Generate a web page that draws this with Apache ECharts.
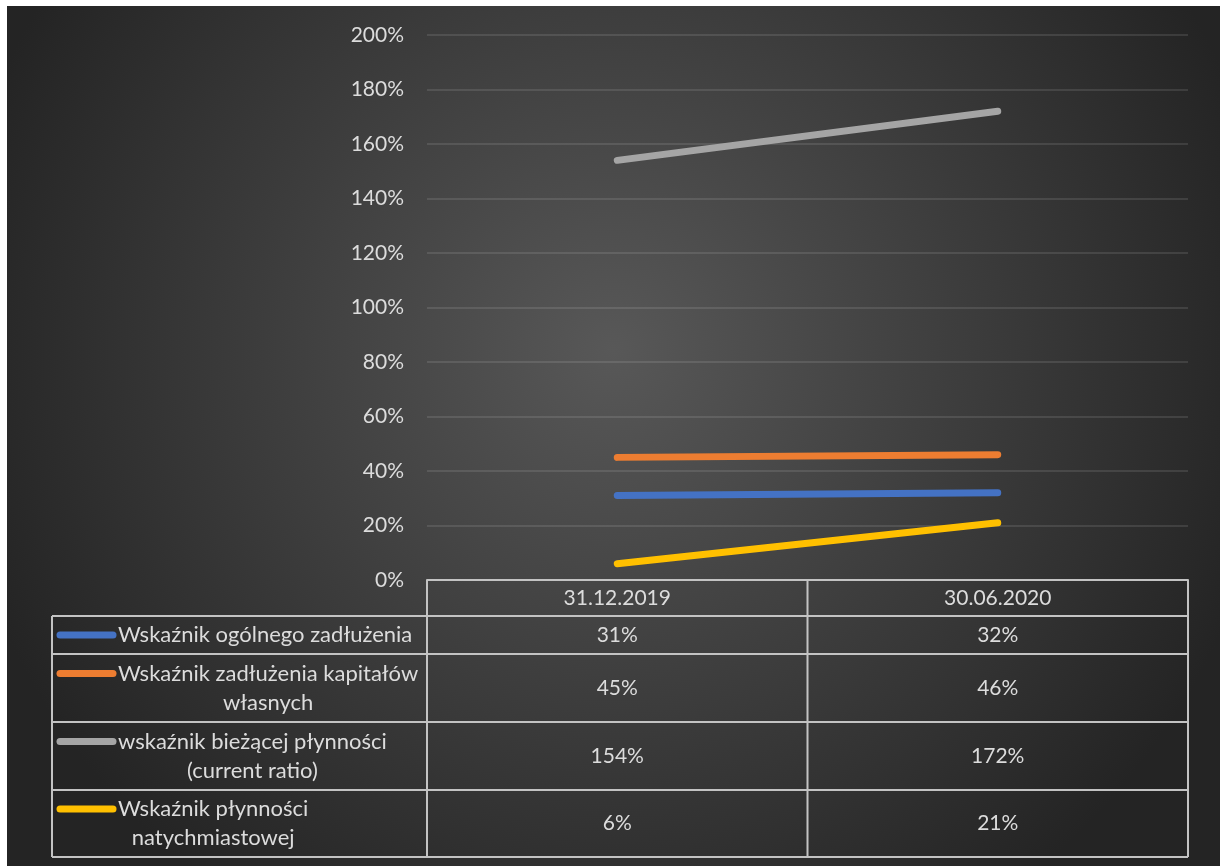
<!DOCTYPE html>
<html><head><meta charset="utf-8">
<script src="https://cdn.jsdelivr.net/npm/echarts@6/dist/echarts.min.js"></script>
<style>html,body{margin:0;padding:0;background:#242424;width:1220px;height:866px;overflow:hidden}
#c{position:absolute;left:7px;top:6px;width:1213px;height:860px}
#wt{position:absolute;left:0;top:0;width:1220px;height:6px;background:#fff}
#wl{position:absolute;left:0;top:0;width:7px;height:866px;background:#fff}</style></head>
<body><div id="c"></div><div id="wt"></div><div id="wl"></div>
<script>
const categories = ['31.12.2019', '30.06.2020'];
const seriesNames = [
  'Wskaźnik ogólnego zadłużenia',
  'Wskaźnik zadłużenia kapitałów\nwłasnych',
  'wskaźnik bieżącej płynności\n(current ratio)',
  'Wskaźnik płynności\nnatychmiastowej'
];
const ogolneZadluzenie = [0.31, 0.32];
const zadluzenieKapitalow = [0.45, 0.46];
const biezacaPlynnosc = [1.54, 1.72];
const plynnoscNatychmiastowa = [0.06, 0.21];
const seriesColors = ['#4472C4', '#ED7D31', '#A5A5A5', '#FFC000'];
const yMin = 0, yMax = 2, yStep = 0.2;

const seriesValues = [ogolneZadluzenie, zadluzenieKapitalow, biezacaPlynnosc, plynnoscNatychmiastowa];
const FONT = 'Lato';
const FS_NUM = 21;
const FS_LBL = 22;
const TXT = '#dcdcdc';
const LINE = '#c3c3c3';
const pct = v => Math.round(v * 100) + '%';

const chart = echarts.init(document.getElementById('c'));
chart.setOption({
  animation: false,
  backgroundColor: {
    type: 'radial', x: 0.5, y: 0.4, r: 0.78,
    colorStops: [{offset: 0, color: '#585858'}, {offset: 1, color: '#242424'}]
  },
  textStyle: {fontFamily: FONT},
  grid: {left: 420, right: 32, top: 29, bottom: 286},
  xAxis: {
    type: 'category', data: categories, boundaryGap: true,
    axisTick: {show: false},
    axisLine: {lineStyle: {color: LINE, width: 2}},
    axisLabel: {color: TXT, fontSize: FS_NUM, fontFamily: FONT, margin: 18, verticalAlign: 'middle'},
    splitLine: {show: false}
  },
  yAxis: {
    type: 'value', min: yMin, max: yMax, interval: yStep,
    axisLine: {show: false}, axisTick: {show: false},
    axisLabel: {color: TXT, fontSize: FS_NUM, fontFamily: FONT, margin: 23, formatter: pct},
    splitLine: {lineStyle: {color: 'rgba(255,255,255,0.14)', width: 1.5}}
  },
  series: seriesValues.map((vals, i) => ({
    type: 'line', name: seriesNames[i], data: vals,
    showSymbol: false, symbol: 'none',
    lineStyle: {color: seriesColors[i], width: 7, cap: 'round'},
    itemStyle: {color: seriesColors[i]},
    z: 3
  }))
});

// Data table under the axis
const c0 = chart.convertToPixel({xAxisIndex: 0}, 0);
const c1 = chart.convertToPixel({xAxisIndex: 0}, 1);
const half = (c1 - c0) / 2;
const colEdges = [c0 - half, c0 + half, c1 + half];
const axisY = chart.convertToPixel({yAxisIndex: 0}, 0);
const headerBottom = axisY + 36;
const rowHeights = [38, 68, 68, 67];
const rowTops = [headerBottom];
rowHeights.forEach((h, i) => rowTops.push(rowTops[i] + h));
const tableLeft = 45;
const keyX0 = 50, keyX1 = 109, textX = 111;
const lineH = 29;

const measure = document.createElement('canvas').getContext('2d');
measure.font = FS_LBL + 'px ' + FONT;

const g = [];
const hline = (x1, x2, y) => g.push({type: 'line', shape: {x1, y1: y, x2, y2: y}, style: {stroke: LINE, lineWidth: 2}, silent: true, z: 10});
const vline = (x, y1, y2) => g.push({type: 'line', shape: {x1: x, y1, x2: x, y2}, style: {stroke: LINE, lineWidth: 2}, silent: true, z: 10});
rowTops.forEach(y => hline(tableLeft, colEdges[2], y));
vline(tableLeft, rowTops[0], rowTops[rowTops.length - 1]);
colEdges.forEach(x => vline(x, axisY, rowTops[rowTops.length - 1]));

seriesNames.forEach((name, i) => {
  const top = rowTops[i], h = rowHeights[i], mid = top + h / 2;
  const lines = name.split('\n');
  const blockH = lines.length * lineH;
  const firstY = mid - blockH / 2 + lineH / 2;
  const maxW = Math.max(...lines.map(l => measure.measureText(l).width));
  g.push({type: 'line', shape: {x1: keyX0 + 3, y1: firstY, x2: keyX1 - 3, y2: firstY},
    style: {stroke: seriesColors[i], lineWidth: 7, lineCap: 'round'}, silent: true, z: 11});
  g.push({type: 'text', x: textX + maxW / 2, y: mid, silent: true, z: 11,
    style: {text: name, fill: TXT, font: FS_LBL + 'px ' + FONT, align: 'center', verticalAlign: 'middle', lineHeight: lineH}});
  seriesValues[i].forEach((v, j) => {
    const cx = chart.convertToPixel({xAxisIndex: 0}, j);
    g.push({type: 'text', x: cx, y: mid, silent: true, z: 11,
      style: {text: pct(v), fill: TXT, font: FS_NUM + 'px ' + FONT, align: 'center', verticalAlign: 'middle'}});
  });
});
chart.setOption({graphic: g});
</script></body></html>
